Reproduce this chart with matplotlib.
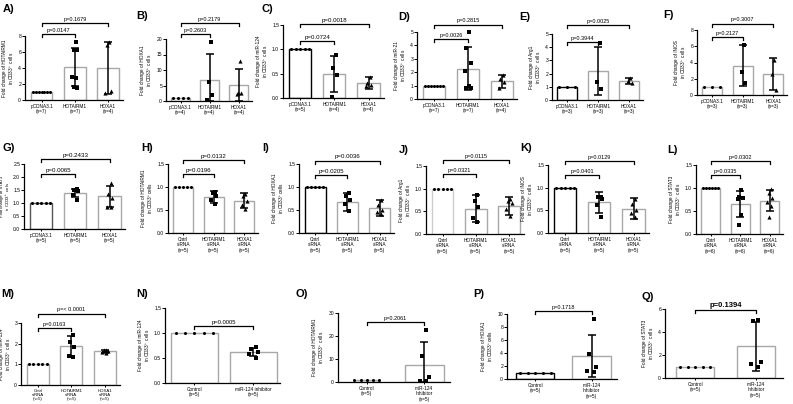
import matplotlib
matplotlib.use('Agg')
import matplotlib.pyplot as plt
import numpy as np

plt.rcParams['font.family'] = ['Liberation Sans', 'DejaVu Sans']
plt.rcParams['mathtext.default'] = 'regular'

# ---- data ----------------------------------------------------------------
ov_cats = ['pCDNA3.1', 'HOTAIRM1', 'HOXA1']
kd_cats = ['Cntrl\nsiRNA', 'HOTAIRM1\nsiRNA', 'HOXA1\nsiRNA']

A_n = [7, 7, 4]
A_mean = [1.0, 4.1, 4.0]
A_sd = [0, 2.4, 3.3]
A_pts = [[1] * 7, [7.3, 6.3, 6.2, 2.9, 2.7, 1.6, 1.5], [7.2, 6.9, 1.1, 0.9]]
A_p = ['p=0.0147', 'p=0.1679']

B_n = [4, 4, 4]
B_mean = [1.0, 6.9, 5.1]
B_sd = [0, 8.4, 5.2]
B_pts = [[1] * 4, [19.0, 6.0, 2.0, 0.3], [12.8, 2.6, 2.5, 2.4]]
B_p = ['p=0.2603', 'p=0.2179']

C_n = [5, 4, 4]
C_mean = [1.0, 0.50, 0.31]
C_sd = [0, 0.37, 0.13]
C_pts = [[1] * 5, [0.88, 0.62, 0.47, 0.02], [0.44, 0.30, 0.26, 0.24]]
C_p = ['p=0.0724', 'p=0.0018']

D_n = [7, 7, 4]
D_mean = [1.0, 2.25, 1.33]
D_sd = [0, 1.6, 0.48]
D_pts = [[1] * 7, [5.0, 3.8, 2.7, 2.1, 1.0, 0.85, 0.8], [1.8, 1.5, 1.3, 0.8]]
D_p = ['p=0.0026', 'p=0.2815']

E_n = [3, 3, 3]
E_mean = [1.0, 2.2, 1.47]
E_sd = [0, 1.85, 0.22]
E_pts = [[1] * 3, [4.3, 1.4, 0.85], [1.65, 1.45, 1.3]]
E_p = ['p=0.3944', 'p=0.0025']

F_n = [3, 3, 3]
F_mean = [1.0, 3.6, 2.55]
F_sd = [0, 2.5, 1.95]
F_pts = [[1] * 3, [6.2, 2.8, 1.5], [4.3, 2.6, 0.6]]
F_p = ['p=0.2127', 'p=0.3007']

G_n = [5, 5, 5]
G_mean = [1.0, 1.37, 1.25]
G_sd = [0, 0.15, 0.42]
G_pts = [[1] * 5, [1.52, 1.5, 1.45, 1.3, 1.1], [1.75, 1.35, 1.2, 0.85, 0.85]]
G_p = ['p=0.0065', 'p=0.2433']

H_n = [5, 5, 5]
H_mean = [1.0, 0.78, 0.70]
H_sd = [0, 0.13, 0.16]
H_pts = [[1] * 5, [0.9, 0.88, 0.8, 0.72, 0.64], [0.85, 0.8, 0.7, 0.6, 0.53]]
H_p = ['p=0.0196', 'p=0.0132']

I_n = [5, 5, 5]
I_mean = [1.0, 0.68, 0.54]
I_sd = [0, 0.2, 0.17]
I_pts = [[1] * 5, [0.88, 0.8, 0.72, 0.62, 0.48], [0.72, 0.6, 0.5, 0.45, 0.42]]
I_p = ['p=0.0205', 'p=0.0036']

J_n = [5, 5, 5]
J_mean = [1.0, 0.56, 0.62]
J_sd = [0, 0.30, 0.19]
J_pts = [[1] * 5, [0.87, 0.72, 0.6, 0.35, 0.27], [0.78, 0.72, 0.68, 0.55, 0.4]]
J_p = ['p=0.0321', 'p=0.0115']

K_n = [5, 5, 5]
K_mean = [1.0, 0.68, 0.54]
K_sd = [0, 0.23, 0.24]
K_pts = [[1] * 5, [0.8, 0.8, 0.75, 0.62, 0.35], [0.75, 0.65, 0.5, 0.45, 0.35]]
K_p = ['p=0.0401', 'p=0.0129']

L_n = [6, 6, 6]
L_mean = [1.0, 0.65, 0.72]
L_sd = [0, 0.29, 0.23]
L_pts = [[1] * 6, [0.95, 0.8, 0.78, 0.75, 0.42, 0.2], [0.98, 0.9, 0.78, 0.7, 0.6, 0.38]]
L_p = ['p=0.0335', 'p=0.0302']

M_n = [5, 5, 5]
M_mean = [1.0, 1.87, 1.63]
M_sd = [0, 0.5, 0.08]
M_pts = [[1] * 5, [2.4, 2.1, 1.85, 1.4, 1.35], [1.7, 1.67, 1.63, 1.6, 1.55]]
M_p = ['p=0.0163', 'p=< 0.0001']

inh_cats = ['Control', 'miR-124\nInhibitor']

N_n = [5, 5]
N_mean = [1.0, 0.62]
N_sd = [0, 0.085]
N_pts = [[1] * 5, [0.72, 0.68, 0.62, 0.58, 0.5]]
N_p = ['p=0.0005']

O_n = [5, 5]
O_mean = [1.0, 7.5]
O_sd = [0, 9.7]
O_pts = [[1] * 5, [22.8, 11.5, 2.0, 0.5, 0.5]]
O_p = ['p=0.2061']

P_n = [5, 5]
P_mean = [1.0, 3.55]
P_sd = [0, 3.25]
P_pts = [[1] * 5, [9.2, 3.85, 1.8, 1.28, 1.08]]
P_p = ['p=0.1718']

Q_n = [5, 5]
Q_mean = [1.0, 2.74]
Q_sd = [0, 2.12]
Q_pts = [[1] * 5, [5.07, 4.99, 1.39, 1.25, 1.0]]
Q_p = ['p=0.1394']

# ---- drawing ---------------------------------------------------------------
W, H = 793, 404
fig = plt.figure(figsize=(W / 100, H / 100), dpi=100)


def ylab(gene, gap=' '):
    return 'Fold change of ' + gene + '\nin CD33$^+$' + gap + 'cells'


def panel(box, letter, lxy, cats, ns, means, sds, pts, ymax, ystep, ylabel,
          pvals, bry, first_edge='#a8a8a8', pfs=4.0, pweight='normal',
          width=0.65, xfs=3.4, ylx=None, ylfs=3.4):
    l, t, r, b = box
    ax = fig.add_axes([l / W, 1 - b / H, (r - l) / W, (b - t) / H])
    x = np.arange(len(cats))
    means = np.array(means, dtype=float)
    sds = np.array(sds, dtype=float)
    edges = [first_edge] + ['#a8a8a8'] * (len(cats) - 1)
    ax.bar(x, means, width=width, color='white', edgecolor=edges,
           linewidth=1.0, zorder=1)
    lo = np.minimum(sds, means)
    ax.errorbar(x[1:], means[1:], yerr=[lo[1:], sds[1:]], fmt='none',
                ecolor='black', elinewidth=1.1, capsize=3.2, capthick=1.1,
                zorder=3)
    markers = ['o', 's', '^']
    for i, vals in enumerate(pts):
        n = len(vals)
        if i == 0:
            offs = np.linspace(-0.26, 0.26, n) * (np.mean(width) / 0.65)
        else:
            offs = np.array([0.04 * (1 if k % 2 == 0 else -1) * (1 + (k // 2) % 2)
                             for k in range(n)])
        ax.plot(x[i] + offs, vals, ls='none', marker=markers[i],
                ms=2.2 if i == 0 else 3.0, color='black', mew=0,
                zorder=4, clip_on=False)

    ax.set_xlim(-0.5, len(cats) - 0.55)
    ax.set_ylim(0, ymax)
    ticks = np.arange(0, ymax + ystep / 2, ystep)
    ax.set_yticks(ticks)
    if ystep < 1:
        ax.set_yticklabels(['%.1f' % v for v in ticks])
    else:
        ax.set_yticklabels(['%d' % v for v in ticks])
    ax.set_xticks(x)
    ax.set_xticklabels(['%s\n(n=%d)' % (c, n) for c, n in zip(cats, ns)],
                       fontsize=xfs, linespacing=1.1)
    ax.tick_params(axis='y', labelsize=3.6, length=2, width=0.7, pad=0.8)
    ax.tick_params(axis='x', length=1.5, width=0.7, pad=1.2)
    for s in ['top', 'right']:
        ax.spines[s].set_visible(False)
    for s in ['left', 'bottom']:
        ax.spines[s].set_linewidth(0.9)
    ax.set_ylabel(ylabel, fontsize=ylfs, labelpad=1.5, linespacing=1.15)
    if ylx is not None:
        # right edge of the rotated label, ylx pixels left of the y axis
        ax.yaxis.set_label_coords(-ylx / (r - l), 0.5)

    trans = ax.get_xaxis_transform()
    leg = 3.0 / (b - t)
    for j, (txt, yf) in enumerate(zip(pvals, bry)):
        x1 = x[j + 1]
        ax.plot([x[0], x[0], x1, x1], [yf - leg, yf, yf, yf - leg],
                transform=trans, color='black', lw=0.9, clip_on=False)
        ax.text((x[0] + x1) / 2, yf + 1.2 / (b - t), txt, transform=trans,
                ha='center', va='bottom', fontsize=pfs, fontweight=pweight)

    fig.text(lxy[0] / W, 1 - lxy[1] / H, letter, fontsize=8, fontweight='bold',
             ha='center', va='center')
    return ax


panel((25, 36, 123, 100), 'A)', (9, 9), ov_cats, A_n, A_mean, A_sd, A_pts,
      8, 2, ylab('HOTAIRM1'), A_p, [1.03, 1.20])
panel((166, 39, 252, 101), 'B)', (142, 16), ov_cats, B_n, B_mean, B_sd, B_pts,
      20, 5, ylab('HOXA1'), B_p, [1.08, 1.26])
panel((283, 25, 384, 98), 'C)', (267, 9), ov_cats, C_n, C_mean, C_sd, C_pts,
      1.5, 0.5, ylab('miR-124'), C_p, [0.78, 1.01], first_edge='black', pfs=4.4)
panel((417, 32, 517, 99), 'D)', (404, 17), ov_cats, D_n, D_mean, D_sd, D_pts,
      5, 1, ylab('miR-21'), D_p, [0.89, 1.11])
panel((552, 34, 643, 100), 'E)', (525, 17), ov_cats, E_n, E_mean, E_sd, E_pts,
      5, 1, ylab('Arg1'), E_p, [0.88, 1.13], first_edge='black')
panel((697, 30, 787, 95), 'F)', (668, 15), ov_cats, F_n, F_mean, F_sd, F_pts,
      8, 2, ylab('iNOS'), F_p, [0.89, 1.10])

panel((24, 164, 125, 229), 'G)', (9, 148), ov_cats, G_n, G_mean, G_sd, G_pts,
      2.5, 0.5, ylab('STAT3'), G_p, [0.85, 1.07], first_edge='#555555', pfs=4.4,
      ylx=11.5, ylfs=3.1)
panel((168, 164, 258, 233), 'H)', (147, 148), kd_cats, H_n, H_mean, H_sd, H_pts,
      1.5, 0.5, ylab('HOTAIRM1', ''), H_p, [0.85, 1.06], pfs=4.4)
panel((299, 164, 394, 233), 'I)', (266, 148), kd_cats, I_n, I_mean, I_sd, I_pts,
      1.5, 0.5, ylab('HOXA1', ''), I_p, [0.84, 1.05], first_edge='black', pfs=4.4)
panel((426, 166, 524, 234), 'J)', (404, 150), kd_cats, J_n, J_mean, J_sd, J_pts,
      1.5, 0.5, ylab('Arg1'), J_p, [0.88, 1.09], first_edge='#cccccc')
panel((548, 165, 649, 233), 'K)', (526, 148), kd_cats, K_n, K_mean, K_sd, K_pts,
      1.5, 0.5, ylab('iNOS'), K_p, [0.85, 1.06], first_edge='black')
panel((696, 165, 783, 234), 'L)', (672, 150), kd_cats, L_n, L_mean, L_sd, L_pts,
      1.5, 0.5, ylab('STAT3'), L_p, [0.85, 1.06])

panel((21, 323, 120, 385), 'M)', (8, 294), kd_cats, M_n, M_mean, M_sd, M_pts,
      3, 1, ylab('miR-124'), M_p, [0.92, 1.15], xfs=3.1, ylx=8)
panel((165, 308, 280, 383), 'N)', (142, 294), ['Control', 'miR-124 inhibitor'],
      N_n, N_mean, N_sd, N_pts, 1.5, 0.5, ylab('miR-124'), N_p, [0.76],
      pfs=4.2, width=0.8)
panel((338, 313, 450, 382), 'O)', (302, 294), inh_cats, O_n, O_mean, O_sd, O_pts,
      30, 10, ylab('HOTAIRM1'), O_p, [0.87], width=[0.4, 0.68])
panel((507, 314, 617, 379), 'P)', (479, 294), inh_cats, P_n, P_mean, P_sd, P_pts,
      10, 2, ylab('HOXA1', ''), P_p, [1.04], first_edge='black', width=0.68)
panel((665, 309, 783, 378), 'Q)', (648, 297), inh_cats, Q_n, Q_mean, Q_sd, Q_pts,
      6, 2, ylab('STAT3'), Q_p, [0.98], pfs=5.5, pweight='bold', width=0.62)

fig.savefig('out.png', dpi=100)
